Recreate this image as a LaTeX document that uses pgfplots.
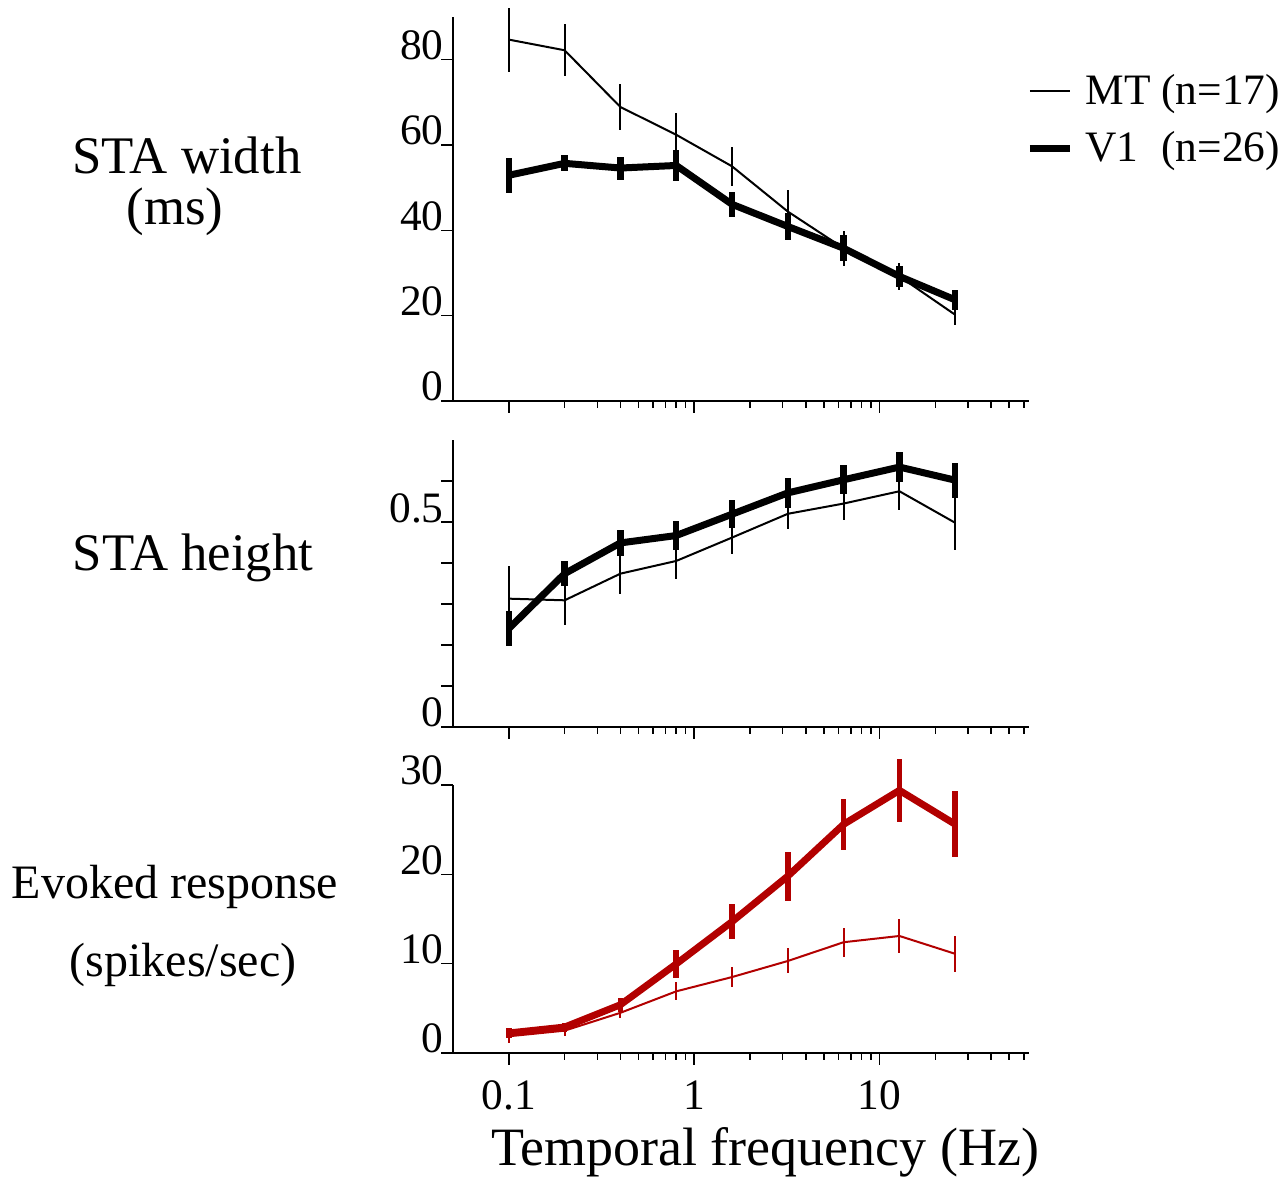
\documentclass[border=0pt]{standalone}
\usepackage{pgfplots}
\pgfplotsset{compat=1.18}
\usepackage{fontspec}
\setmainfont{Liberation Serif}
\definecolor{dred}{RGB}{178,0,0}
\pgfplotsset{
  every axis/.append style={
    scale only axis, width=288pt,
    xmin=0.05, xmax=64,
    axis lines=left, axis line style={-, line width=0.75pt},
    tick align=outside, tick style={line width=0.75pt, black},
    major tick length=6pt, minor tick length=3.5pt,
    xtick={0.1,1,10},
    minor xtick={0.2,0.3,0.4,0.5,0.6,0.7,0.8,0.9,2,3,4,5,6,7,8,9,20,30,40,50,60},
    clip=false,
    yticklabel style={anchor=base east, inner sep=0pt, xshift=1.5pt, font=\fontsize{21.7}{22}\selectfont},
    xticklabel style={font=\fontsize{21.7}{22}\selectfont},
  },
  mtstyle/.style={no markers, line width=1pt, line join=round,
    error bars/y dir=both, error bars/y explicit, error bars/error mark=none,
    error bars/error bar style={line width=1pt}},
  vonestyle/.style={no markers, line width=3.5pt, line join=round,
    error bars/y dir=both, error bars/y explicit, error bars/error mark=none,
    error bars/error bar style={line width=3.2pt}},
}
\begin{document}
\begin{tikzpicture}
\useasboundingbox (0,0) rectangle (640.5pt,589pt);
% ---------- top panel ----------
\begin{axis}[xmode=log, anchor=south west, at={(226.5pt,388.5pt)}, height=192pt,
  xticklabels={},
  ymin=0, ymax=90, ytick={0,20,40,60,80}, yticklabels={0,20,40,60,80},
  legend cell align=left,
  legend image post style={xscale=1.176},
  legend style={at={(rel axis cs:1.0,0.862)}, xshift=-1.5pt, anchor=north west, draw=none, fill=none,
    inner sep=0pt, font=\fontsize{21.7}{22}\selectfont, row sep=8pt,
    /tikz/every odd column/.append style={column sep=4pt}},
]
\addplot[mtstyle, black, forget plot] coordinates {
 (0.1,84.7) +- (0,7.5) (0.2,82.2) +- (0,6.1) (0.4,68.9) +- (0,5.3)
 (0.8,62.4) +- (0,5.1) (1.6,55.0) +- (0,4.6) (3.2,44.4) +- (0,5.0)
 (6.4,35.8) +- (0,4.1) (12.8,29.2) +- (0,3.2) (25.6,20.2) +- (0,2.4)};
\addplot[vonestyle, black, forget plot] coordinates {
 (0.1,52.9) +- (0,4.1) (0.2,55.7) +- (0,1.9) (0.4,54.6) +- (0,2.7)
 (0.8,55.2) +- (0,3.7) (1.6,46.1) +- (0,2.9) (3.2,40.9) +- (0,3.1)
 (6.4,35.8) +- (0,3.1) (12.8,29.2) +- (0,2.5) (25.6,23.7) +- (0,2.3)};
\addlegendimage{black, line width=1pt, no markers}
\addlegendentry{MT (n=17)}
\addlegendimage{black, line width=3.5pt, no markers}
\addlegendentry{\rlap{V1}\phantom{MT} (n=26)}
\end{axis}
% ---------- middle panel ----------
\begin{axis}[xmode=log, anchor=south west, at={(226.5pt,225.5pt)}, height=143.5pt,
  xticklabels={},
  ymin=0, ymax=0.7, ytick={0,0.1,0.2,0.3,0.4,0.5,0.6}, yticklabels={0,,,,,0.5,},
]
\addplot[mtstyle, black] coordinates {
 (0.1,0.313) +- (0,0.08) (0.2,0.309) +- (0,0.06) (0.4,0.374) +- (0,0.05)
 (0.8,0.405) +- (0,0.045) (1.6,0.462) +- (0,0.04) (3.2,0.520) +- (0,0.037)
 (6.4,0.545) +- (0,0.041) (12.8,0.575) +- (0,0.045) (25.6,0.498) +- (0,0.066)};
\addplot[vonestyle, black] coordinates {
 (0.1,0.240) +- (0,0.042) (0.2,0.374) +- (0,0.031) (0.4,0.449) +- (0,0.032)
 (0.8,0.467) +- (0,0.036) (1.6,0.519) +- (0,0.034) (3.2,0.571) +- (0,0.036)
 (6.4,0.603) +- (0,0.035) (12.8,0.634) +- (0,0.036) (25.6,0.602) +- (0,0.043)};
\end{axis}
% ---------- bottom panel ----------
\begin{axis}[xmode=log, anchor=south west, at={(226.5pt,62.5pt)}, height=134pt,
  ymin=0, ymax=30, ytick={0,10,20,30}, yticklabels={0,10,20,30},
  xticklabels={0.1,1,10}, xticklabel style={yshift=-4.5pt},
]
\addplot[mtstyle, dred] coordinates {
 (0.1,1.87) +- (0,0.7) (0.2,2.5) +- (0,0.6) (0.4,4.5) +- (0,0.6)
 (0.8,6.9) +- (0,1.0) (1.6,8.5) +- (0,1.1) (3.2,10.3) +- (0,1.4)
 (6.4,12.4) +- (0,1.6) (12.8,13.1) +- (0,1.9) (25.6,11.1) +- (0,2.0)};
\addplot[vonestyle, dred, error bars/error bar style={line width=2.8pt}] coordinates {
 (0.1,2.24) +- (0,0.6) (0.2,2.9) +- (0,0.5) (0.4,5.4) +- (0,0.8)
 (0.8,9.97) +- (0,1.6) (1.6,14.7) +- (0,1.95) (3.2,19.8) +- (0,2.75)
 (6.4,25.6) +- (0,2.85) (12.8,29.4) +- (0,3.55) (25.6,25.6) +- (0,3.7)};
\end{axis}
% ---------- labels ----------
\node[font=\fontsize{26.4}{30}\selectfont] at (93.5pt,511.5pt) {STA width};
\node[font=\fontsize{26.4}{30}\selectfont] at (87.5pt,483pt) {(ms)};
\node[font=\fontsize{26.4}{30}\selectfont] at (96.5pt,310pt) {STA height};
\node[font=\fontsize{24}{28}\selectfont] at (87.5pt,145.5pt) {Evoked response};
\node[font=\fontsize{24}{28}\selectfont] at (91.5pt,106.5pt) {(spikes/sec)};
\node[font=\fontsize{27}{30}\selectfont] at (382.5pt,13pt) {Temporal frequency (Hz)};
\end{tikzpicture}
\end{document}
